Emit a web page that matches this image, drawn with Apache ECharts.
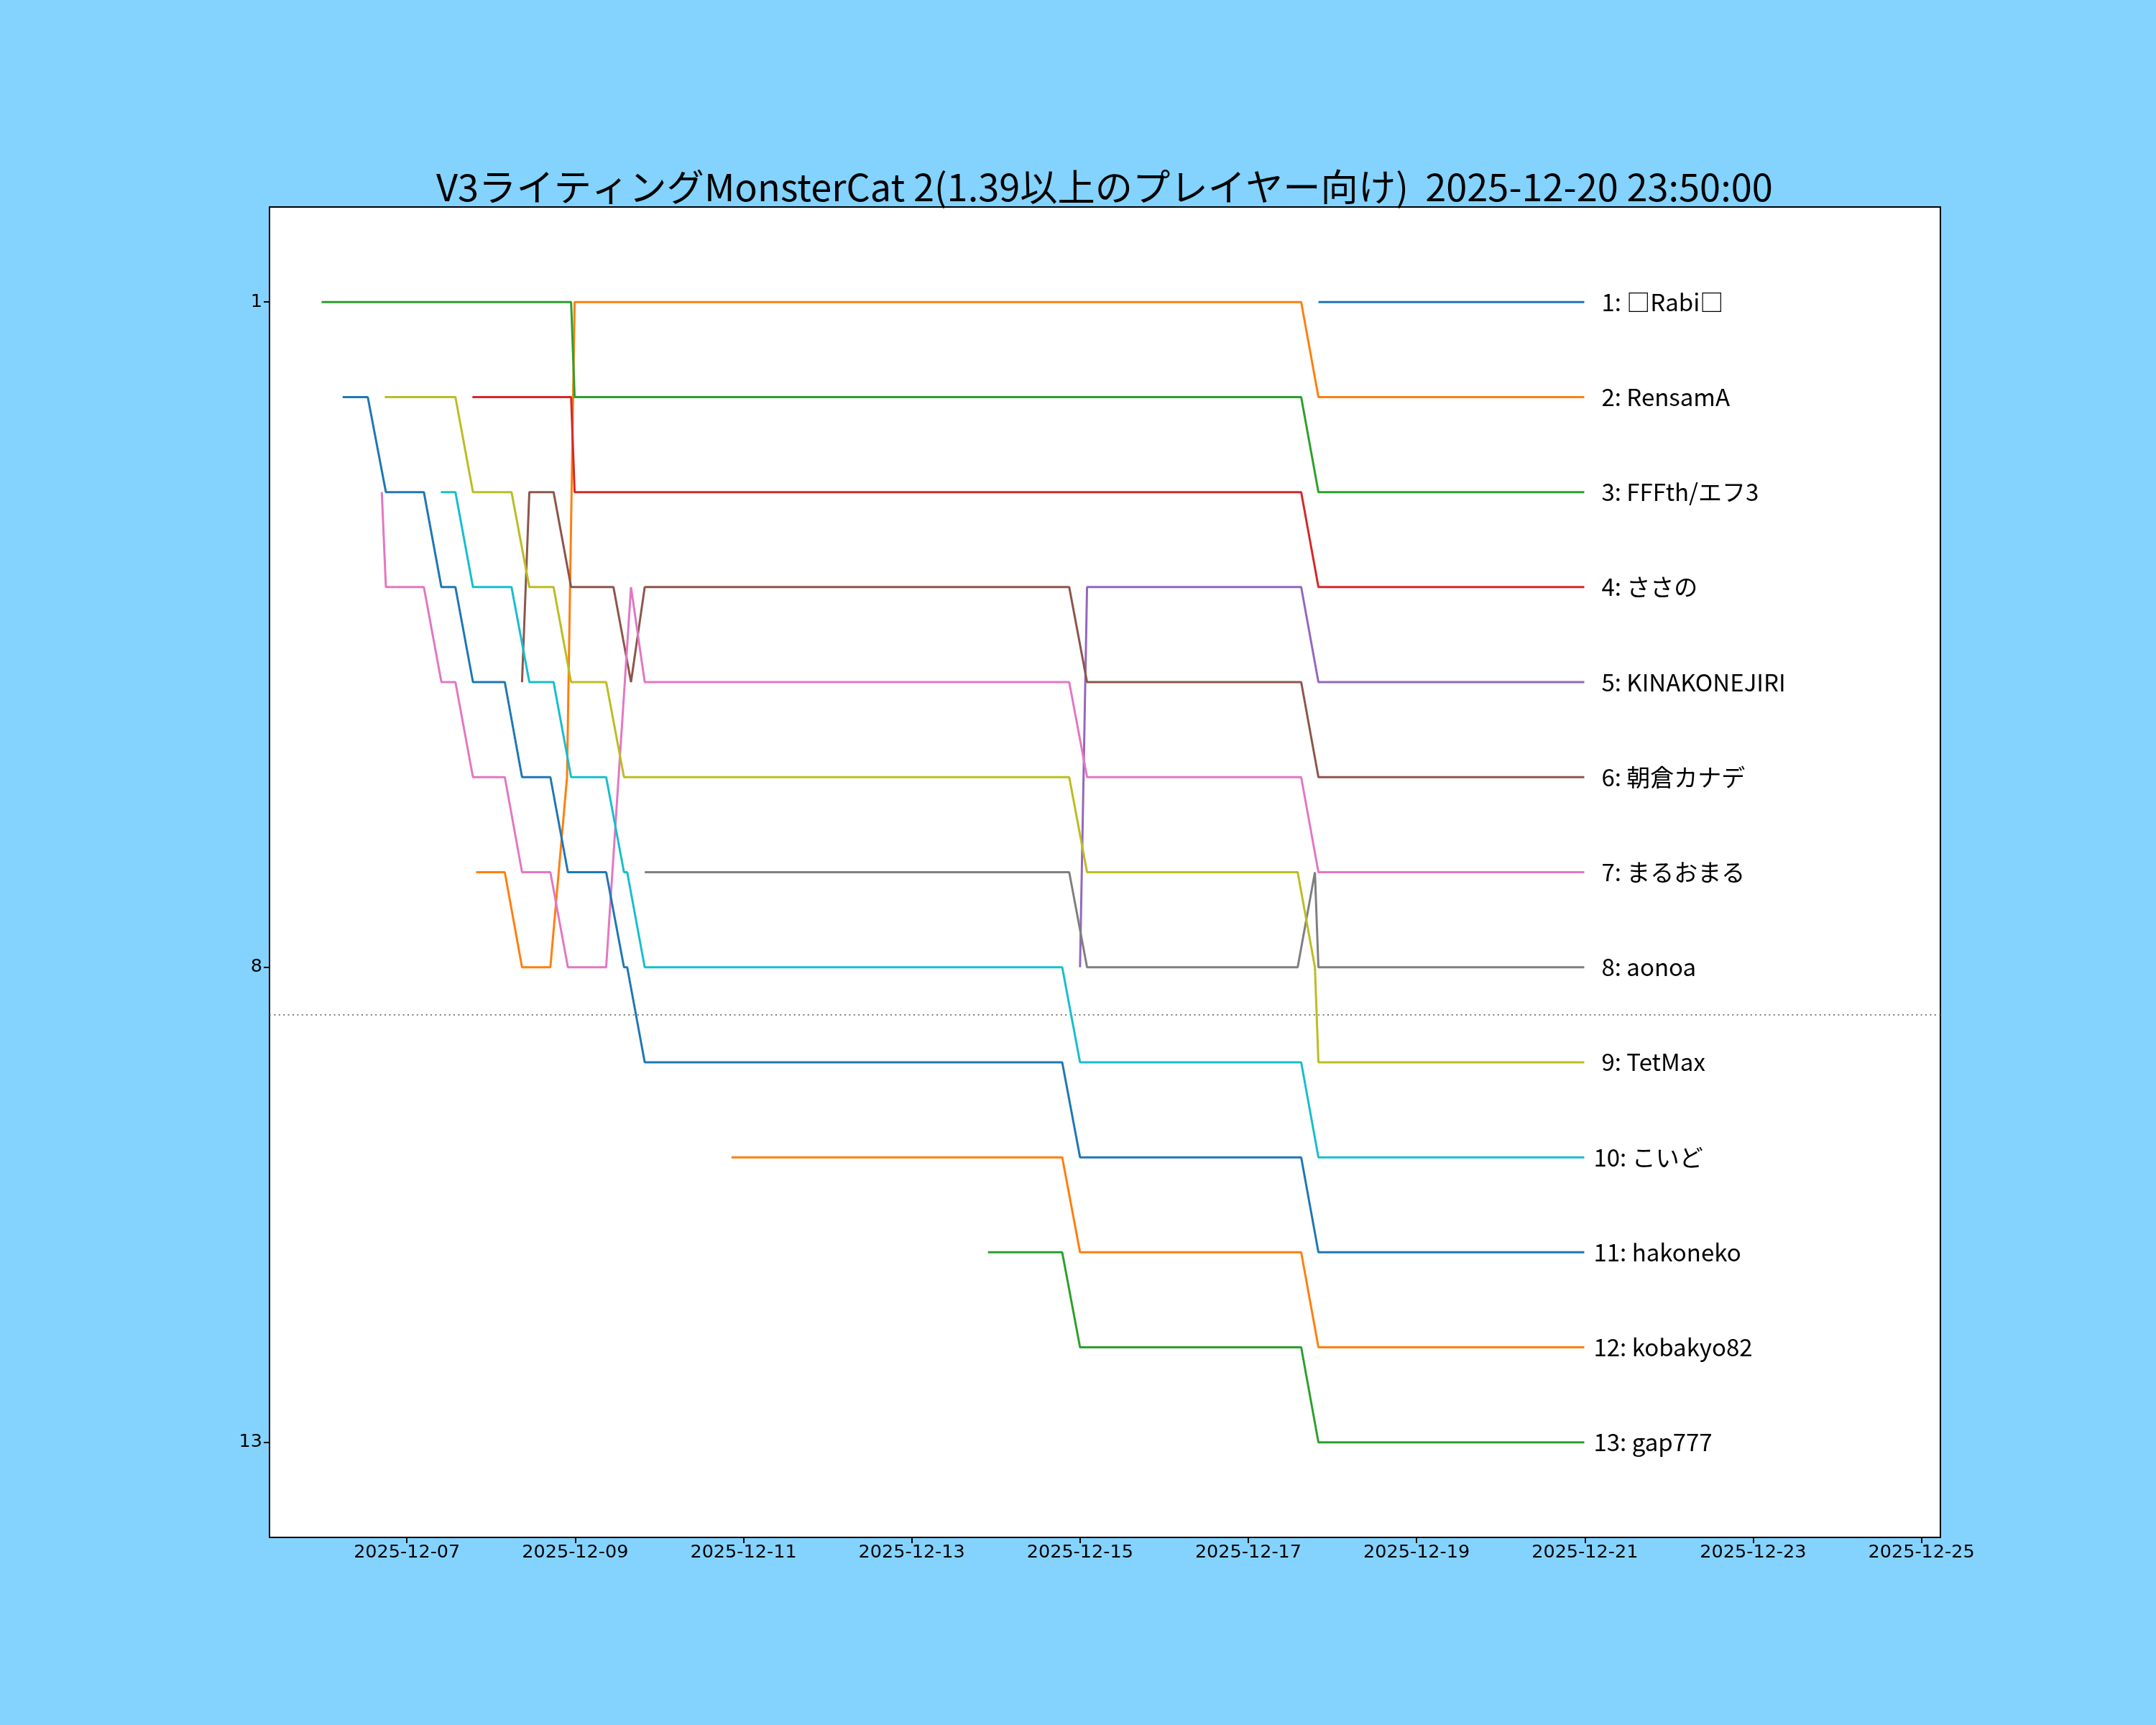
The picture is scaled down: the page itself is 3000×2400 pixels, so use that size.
<!DOCTYPE html>
<html>
<head>
<meta charset="utf-8">
<title>V3ライティング MonsterCat 2</title>
<script src="https://cdn.jsdelivr.net/npm/echarts@6/dist/echarts.min.js"></script>
<style>
  html, body { margin: 0; padding: 0; background: #83d3fe; }
  #chart { width: 3000px; height: 2400px; }
</style>
</head>
<body>
<div id="chart"></div>
<script>
// === données ===
const chartTitle = "V3ライティングMonsterCat 2(1.39以上のプレイヤー向け)  2025-12-20 23:50:00";

// noms dans l'ordre du classement final
const playerNames = ["□Rabi□", "RensamA", "FFFth/エフ3", "ささの", "KINAKONEJIRI", "朝倉カナデ",
  "まるおまる", "aonoa", "TetMax", "こいど", "hakoneko", "kobakyo82", "gap777"];

// historique [date "MM-DD HH:mm", rang]
const rabi = [["12-17 20:00", 1], ["12-20 23:50", 1]];
const rensamA = [["12-07 19:45", 7], ["12-08 03:55", 7], ["12-08 08:50", 8], ["12-08 16:55", 8],
  ["12-08 21:40", 6], ["12-08 23:50", 1], ["12-17 15:05", 1], ["12-17 20:00", 2], ["12-20 23:50", 2]];
const fffth = [["12-05 23:40", 1], ["12-08 22:50", 1], ["12-08 23:50", 2], ["12-17 15:05", 2],
  ["12-17 20:00", 3], ["12-20 23:50", 3]];
const sasano = [["12-07 18:40", 2], ["12-08 22:50", 2], ["12-08 23:50", 3], ["12-17 15:05", 3],
  ["12-17 20:00", 4], ["12-20 23:50", 4]];
const kinako = [["12-15 00:00", 8], ["12-15 02:00", 4], ["12-17 15:05", 4], ["12-17 20:00", 5],
  ["12-20 23:50", 5]];
const asakura = [["12-08 08:50", 5], ["12-08 10:55", 3], ["12-08 17:50", 3], ["12-08 22:50", 4],
  ["12-09 10:55", 4], ["12-09 15:55", 5], ["12-09 19:50", 4], ["12-14 20:55", 4], ["12-15 02:00", 5],
  ["12-17 15:05", 5], ["12-17 20:00", 6], ["12-20 23:50", 6]];
const maruomaru = [["12-06 16:50", 3], ["12-06 18:00", 4], ["12-07 04:50", 4], ["12-07 09:50", 5],
  ["12-07 13:50", 5], ["12-07 18:50", 6], ["12-08 03:55", 6], ["12-08 08:50", 7], ["12-08 16:55", 7],
  ["12-08 21:55", 8], ["12-09 08:50", 8], ["12-09 15:55", 4], ["12-09 19:50", 5], ["12-14 20:55", 5],
  ["12-15 02:00", 6], ["12-17 15:05", 6], ["12-17 20:00", 7], ["12-20 23:50", 7]];
const aonoa = [["12-09 19:50", 7], ["12-14 20:55", 7], ["12-15 02:00", 8], ["12-17 14:05", 8],
  ["12-17 19:00", 7], ["12-17 20:00", 8], ["12-20 23:50", 8]];
const tetmax = [["12-06 17:40", 2], ["12-07 13:50", 2], ["12-07 18:50", 3], ["12-08 05:50", 3],
  ["12-08 10:55", 4], ["12-08 17:50", 4], ["12-08 22:50", 5], ["12-09 08:50", 5], ["12-09 13:55", 6],
  ["12-14 20:55", 6], ["12-15 02:00", 7], ["12-17 14:05", 7], ["12-17 19:00", 8], ["12-17 20:00", 9],
  ["12-20 23:50", 9]];
const koido = [["12-07 09:40", 3], ["12-07 13:50", 3], ["12-07 18:50", 4], ["12-08 05:50", 4],
  ["12-08 10:55", 5], ["12-08 17:50", 5], ["12-08 22:50", 6], ["12-09 08:50", 6], ["12-09 13:55", 7],
  ["12-09 14:50", 7], ["12-09 19:50", 8], ["12-14 18:55", 8], ["12-15 00:00", 9], ["12-17 15:05", 9],
  ["12-17 20:00", 10], ["12-20 23:50", 10]];
const hakoneko = [["12-06 05:40", 2], ["12-06 12:50", 2], ["12-06 18:00", 3], ["12-07 04:50", 3],
  ["12-07 09:50", 4], ["12-07 13:50", 4], ["12-07 18:50", 5], ["12-08 03:55", 5], ["12-08 08:50", 6],
  ["12-08 16:55", 6], ["12-08 21:55", 7], ["12-09 08:50", 7], ["12-09 13:55", 8], ["12-09 14:50", 8],
  ["12-09 19:50", 9], ["12-14 18:55", 9], ["12-15 00:00", 10], ["12-17 15:05", 10], ["12-17 20:00", 11],
  ["12-20 23:50", 11]];
const kobakyo = [["12-10 20:35", 10], ["12-14 18:55", 10], ["12-15 00:00", 11], ["12-17 15:05", 11],
  ["12-17 20:00", 12], ["12-20 23:50", 12]];
const gap777 = [["12-13 21:45", 11], ["12-14 18:55", 11], ["12-15 00:00", 12], ["12-17 15:05", 12],
  ["12-17 20:00", 13], ["12-20 23:50", 13]];

const histories = [rabi, rensamA, fffth, sasano, kinako, asakura, maruomaru, aonoa, tetmax,
  koido, hakoneko, kobakyo, gap777];

const dateTicks = ["12-07 00:00", "12-09 00:00", "12-11 00:00", "12-13 00:00", "12-15 00:00",
  "12-17 00:00", "12-19 00:00", "12-21 00:00", "12-23 00:00", "12-25 00:00"];
const rankTicks = [1, 8, 13];
const cutoffRank = 8.5;
const xRange = ["12-05 08:48", "12-25 05:25"];

// === utilitaires ===
function toTime(s) {
  const [md, hm] = s.split(" ");
  const [mo, d] = md.split("-").map(Number);
  const [h, mi] = hm.split(":").map(Number);
  return Date.UTC(2025, mo - 1, d, h, mi);
}

function fmtDate(v) {
  const d = new Date(v);
  const p = n => String(n).padStart(2, "0");
  return `${d.getUTCFullYear()}-${p(d.getUTCMonth() + 1)}-${p(d.getUTCDate())}`;
}

const tab10 = ["#1f77b4", "#ff7f0e", "#2ca02c", "#d62728", "#9467bd",
  "#8c564b", "#e377c2", "#7f7f7f", "#bcbd22", "#17becf"];

// === graphique ===
const chart = echarts.init(document.getElementById("chart"));

const series = histories.map((hist, i) => {
  const rank = i + 1;
  const s = {
    name: playerNames[i],
    type: "line",
    data: hist.map(([t, r]) => [toTime(t), r]),
    showSymbol: false,
    symbol: "none",
    lineStyle: { width: 3, color: tab10[i % 10] },
    itemStyle: { color: tab10[i % 10] },
    z: 2 + i,
    endLabel: {
      show: true,
      formatter: `${rank}: ${playerNames[i]}`,
      distance: rank < 10 ? 24 : 13,
      fontFamily: "Noto Sans CJK JP",
      fontSize: 33,
      color: "#000"
    }
  };
  if (i === 0) {
    s.markLine = {
      silent: true,
      symbol: ["none", "none"],
      label: { show: false },
      lineStyle: { type: [2, 4.4], color: "#808080", width: 2 },
      data: [{ yAxis: cutoffRank }]
    };
  }
  return s;
});

const option = {
  backgroundColor: "#83d3fe",
  animation: false,
  grid: {
    left: 375, right: 300, top: 288, bottom: 261,
    show: true, backgroundColor: "#ffffff", borderColor: "#000000", borderWidth: 2
  },
  graphic: [{
    type: "text",
    left: 1537 - 960,
    top: 234,
    style: {
      text: chartTitle,
      fontFamily: "Noto Sans CJK JP",
      fontSize: 52.3,
      fill: "#000"
    }
  }],
  xAxis: {
    type: "value",
    min: toTime(xRange[0]),
    max: toTime(xRange[1]),
    axisLine: { show: false, onZero: false },
    splitLine: { show: false },
    axisTick: {
      show: true, length: 8, inside: false,
      lineStyle: { color: "#000", width: 2 },
      customValues: dateTicks.map(toTime)
    },
    axisLabel: {
      customValues: dateTicks.map(toTime),
      formatter: v => fmtDate(v),
      fontFamily: "DejaVu Sans",
      fontSize: 25.5,
      color: "#000",
      margin: 8
    }
  },
  yAxis: {
    type: "value",
    inverse: true,
    min: 0,
    max: 14,
    axisLine: { show: false, onZero: false },
    splitLine: { show: false },
    axisTick: {
      show: true, length: 8,
      lineStyle: { color: "#000", width: 2 },
      customValues: rankTicks
    },
    axisLabel: {
      customValues: rankTicks,
      fontFamily: "DejaVu Sans",
      fontSize: 25.5,
      color: "#000",
      margin: 10
    }
  },
  series: series
};

chart.setOption(option);

// centrer le titre sur la zone de tracé
const titleEl = chart.getZr().storage.getDisplayList().find(el => el.style && el.style.text === chartTitle);
if (titleEl) {
  const w = titleEl.getBoundingRect().width;
  chart.setOption({ graphic: [{ left: Math.round(1537 - w / 2) }] });
}
</script>
</body>
</html>
